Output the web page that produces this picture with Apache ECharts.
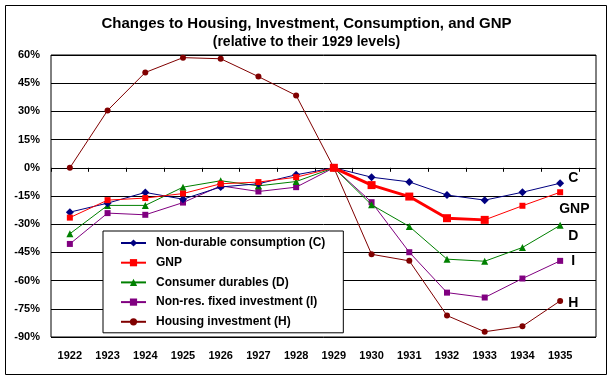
<!DOCTYPE html>
<html>
<head>
<meta charset="utf-8">
<script src="https://cdn.jsdelivr.net/npm/echarts@6/dist/echarts.min.js"></script>
<style>html,body{margin:0;padding:0;background:#fff}#c{width:613px;height:382px}</style>
</head>
<body>
<div id="c"></div>
<script>
const years = ['1922','1923','1924','1925','1926','1927','1928','1929','1930','1931','1932','1933','1934','1935'];
const consumptionC = [-23.6,-18.8,-13.1,-16.7,-10.2,-8.5,-3.7,0,-5.0,-7.5,-14.5,-17.2,-13.0,-8.2];
const gnp =          [-26.5,-17.2,-16.1,-13.7,-8.5,-7.6,-5.0,0,-9.2,-15.3,-26.8,-27.7,-20.2,-13.0];
const durablesD =    [-35.1,-20.0,-20.0,-10.3,-6.9,-9.6,-7.3,0,-19.7,-31.2,-48.6,-49.7,-42.4,-30.6];
const investmentI =  [-40.5,-24.1,-25.0,-18.5,-9.6,-12.6,-10.3,0,-18.3,-44.9,-66.4,-69.0,-58.9,-49.5];
const housingH =     [0,30.5,50.7,58.6,58.0,48.5,38.5,0,-46.0,-49.5,-78.6,-87.2,-84.3,-70.8];
const yTicks = {min:-90, max:60, step:15};
const seriesNames = ['Non-durable consumption (C)','GNP','Consumer durables (D)','Non-res. fixed investment (I)','Housing investment (H)'];
const endTags = ['C','GNP','D','I','H'];
const gnpBoldFrom = 7, gnpBoldTo = 11;

const FONT = 'Arial, "Liberation Sans", sans-serif';
const gnpBold = gnp.map((v,i)=> (i>=gnpBoldFrom && i<=gnpBoldTo) ? v : null);

const chart = echarts.init(document.getElementById('c'), null, {renderer:'canvas'});
function endLabel(txt, off){
  return {show:true, formatter: txt, distance: 8, offset: off, color:'#000',
          fontFamily: FONT, fontWeight:'bold', fontSize:14};
}
chart.setOption({
  animation:false,
  backgroundColor:'#fff',
  title:[
    {text:'Changes to Housing, Investment, Consumption, and GNP', left:'center', top:11,
     textStyle:{fontFamily:FONT, fontWeight:'bold', fontSize:15, color:'#000'}},
    {text:'(relative to their 1929 levels)', left:'center', top:30,
     textStyle:{fontFamily:FONT, fontWeight:'bold', fontSize:14, color:'#000'}}
  ],
  graphic:[{type:'rect', shape:{x:5.5,y:5.5,width:601,height:369}, style:{fill:null, stroke:'#000', lineWidth:1}, silent:true, z:-1}],
  legend:{
    data: seriesNames, orient:'vertical', left:103, top:231,
    padding:[6,18,5,17], itemGap:7.7, itemWidth:25, itemHeight:9,
    backgroundColor:'#fff', borderColor:'#000', borderWidth:1,
    textStyle:{fontFamily:FONT, fontWeight:'bold', fontSize:12, color:'#000', padding:[0,0,0,5], lineHeight:12},
    z:10
  },
  grid:[
    {left:51, top:55, width:528, height:282, containLabel:false},
    {left:51, top:55, width:545, height:282, show:true, borderColor:'#000', borderWidth:1, backgroundColor:'transparent'}
  ],
  xAxis:[
    {type:'category', gridIndex:0, data:years, boundaryGap:true,
     axisLine:{show:false}, axisTick:{show:true, inside:false, length:4, lineStyle:{color:'#000'}},
     axisLabel:{fontFamily:FONT, fontWeight:'bold', fontSize:11, color:'#000', margin:13, interval:0},
     splitLine:{show:false}},
    {type:'value', gridIndex:1, show:false, min:0, max:1}
  ],
  yAxis:[
    {type:'value', gridIndex:0, min:yTicks.min, max:yTicks.max, interval:yTicks.step, show:false, splitLine:{show:false}},
    {type:'value', gridIndex:1, min:yTicks.min, max:yTicks.max, interval:yTicks.step,
     axisLine:{show:false}, axisTick:{show:false},
     axisLabel:{formatter:'{value}%', fontFamily:FONT, fontWeight:'bold', fontSize:11, color:'#000', margin:11},
     splitLine:{show:true, lineStyle:{color:'#000', width:1}}}
  ],
  series:[
    {name:seriesNames[4], type:'line', data:housingH, color:'#800000', symbol:'circle', symbolSize:6,
     lineStyle:{width:1}, endLabel:endLabel(endTags[4],[0,2]), z:2},
    {name:seriesNames[3], type:'line', data:investmentI, color:'#800080', symbol:'rect', symbolSize:6,
     lineStyle:{width:1}, endLabel:endLabel(endTags[3],[3,0]), z:3},
    {name:seriesNames[2], type:'line', data:durablesD, color:'#008000', symbol:'triangle', symbolSize:7,
     lineStyle:{width:1}, endLabel:endLabel(endTags[2],[0,11]), z:4},
    {name:seriesNames[0], type:'line', data:consumptionC, color:'#000080', symbol:'diamond', symbolSize:8,
     lineStyle:{width:1}, endLabel:endLabel(endTags[0],[0,-5]), z:5},
    {name:seriesNames[1], type:'line', data:gnp, color:'#ff0000', symbol:'rect', symbolSize:6,
     lineStyle:{width:1}, endLabel:endLabel(endTags[1],[-9,17]), z:6},
    {name:'GNP 1929-1933', type:'line', data:gnpBold, color:'#ff0000', symbol:'rect', symbolSize:8,
     lineStyle:{width:3}, connectNulls:false, z:7}
  ]
});
</script>
</body>
</html>
